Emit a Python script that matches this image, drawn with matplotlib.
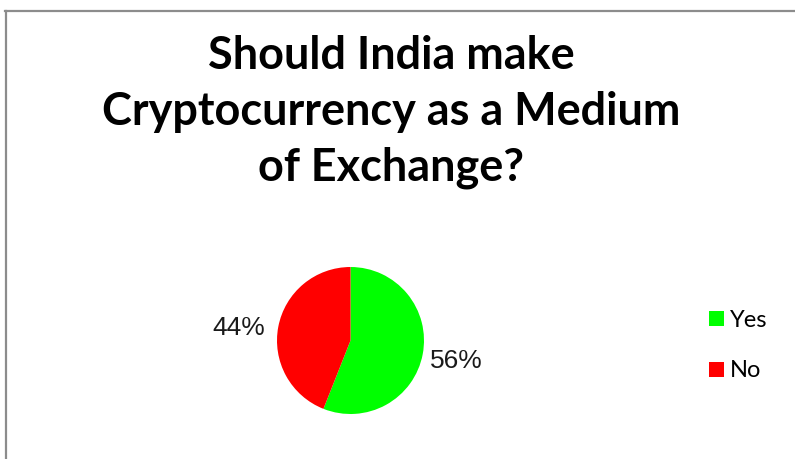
import matplotlib
matplotlib.use("Agg")
import matplotlib.pyplot as plt
from matplotlib.lines import Line2D
from matplotlib.patches import Patch

categories = ["Yes", "No"]
shares = [56, 44]
colors = ["#00FF00", "#FF0000"]
title = "Should India make\nCryptocurrency as a Medium\nof Exchange?"

W, H = 795, 459
fig = plt.figure(figsize=(W / 100, H / 100), dpi=100)
fig.patch.set_facecolor("white")

# chart area frame (top and left edges visible)
fig.add_artist(Line2D([5 / W, 1], [1 - 11 / H, 1 - 11 / H], color="#8c8c8c", lw=1.6))
fig.add_artist(Line2D([6 / W, 6 / W], [0, 1 - 11 / H], color="#8c8c8c", lw=1.6))

# pie axes
cx, cy, r = 350.5, 340.5, 73.5
ax = fig.add_axes([(cx - r) / W, (H - cy - r) / H, 2 * r / W, 2 * r / H])
wedges, texts, autotexts = ax.pie(
    shares, colors=colors, startangle=90, counterclock=False,
    autopct=lambda p: f"{p:.0f}%", pctdistance=1.46, radius=1,
    wedgeprops=dict(linewidth=0))
for t in autotexts:
    t.set_fontfamily("Liberation Sans")
    t.set_fontsize(19)
    t.set_color("#1a1a1a")
# nudge the "No" label a little lower, best-fit style
autotexts[1].set_position((-1.52, 0.17))
ax.set_xlim(-1, 1)
ax.set_ylim(-1, 1)
ax.axis("off")

fig.text(391 / W, 1 - 112 / H, title, ha="center", va="center",
         fontsize=32.4, fontweight="bold", family="Lato", linespacing=1.41)

handles = [Patch(facecolor=c, edgecolor="none") for c in colors]
fig.legend(handles, categories, loc="center left",
           bbox_to_anchor=(700 / W, 1 - 345.5 / H), frameon=False,
           borderaxespad=0, prop=dict(family="Lato", size=17),
           handlelength=0.6, handleheight=0.6, handletextpad=0.25,
           labelspacing=1.27)

fig.savefig("out.png", dpi=100)
